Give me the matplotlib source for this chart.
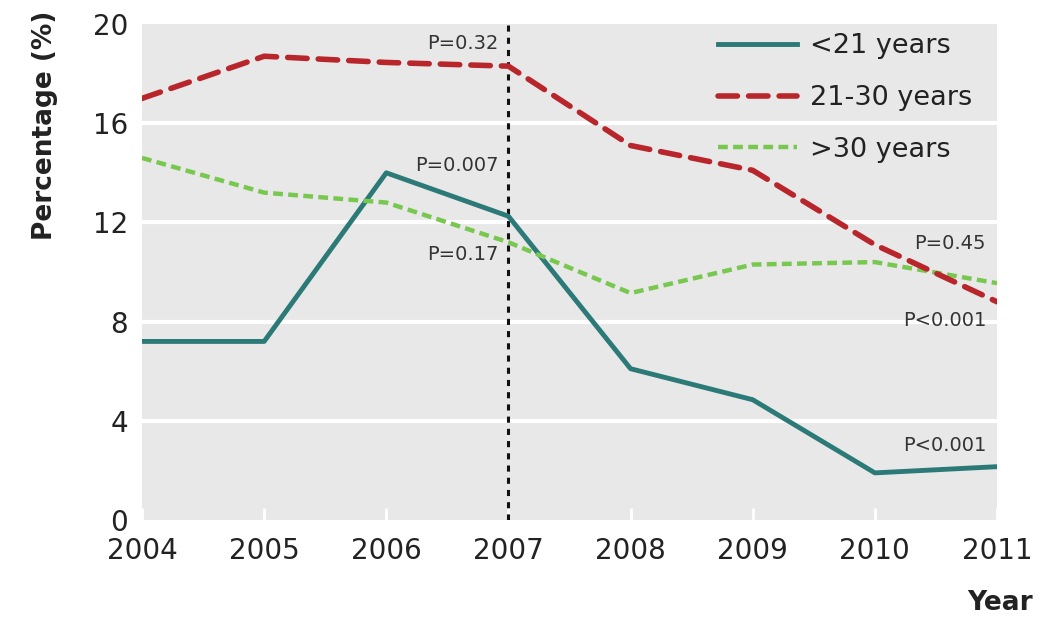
import matplotlib
matplotlib.use('Agg')
import matplotlib.pyplot as plt

years = [2004, 2005, 2006, 2007, 2008, 2009, 2010, 2011]
under_21 = [7.2, 7.2, 14.0, 12.25, 6.1, 4.85, 1.9, 2.15]
age_21_30 = [17.0, 18.7, 18.45, 18.3, 15.1, 14.1, 11.1, 8.8]
over_30 = [14.6, 13.2, 12.8, 11.2, 9.15, 10.3, 10.4, 9.55]

labels = ['<21 years', '21-30 years', '>30 years']
yticks = [0, 4, 8, 12, 16, 20]

# p-value notes: (x, y, text)
p_notes = [
    (2006.92, 19.2, 'P=0.32'),
    (2006.92, 14.3, 'P=0.007'),
    (2006.92, 10.7, 'P=0.17'),
    (2010.91, 11.15, 'P=0.45'),
    (2010.91, 8.05, 'P<0.001'),
    (2010.91, 3.0, 'P<0.001'),
]

plt.rcParams['font.family'] = ['DejaVu Sans']

fig = plt.figure(figsize=(10.55, 6.2), dpi=100)
ax = fig.add_axes([142 / 1055, 100 / 620, 855 / 1055, 496 / 620])
ax.set_facecolor('#e8e8e8')
for s in ax.spines.values():
    s.set_visible(False)

for yv in yticks[1:-1]:
    ax.axhline(yv, color='white', lw=3, zorder=1)

ax.axvline(2007, color='#111111', lw=2.2, ls=(0, (2, 2)), zorder=2)

ax.plot(years, under_21, color='#2b7a78', lw=3.5, label=labels[0], zorder=3,
        solid_joinstyle='round')
ax.plot(years, age_21_30, color='#b8262c', lw=4, ls=(0, (3.5, 2)), label=labels[1],
        zorder=4, dash_capstyle='round')
ax.plot(years, over_30, color='#78c850', lw=3.2, ls=(0, (2.2, 1.2)), label=labels[2],
        zorder=3)

for x, y, t in p_notes:
    ax.text(x, y, t, ha='right', va='center', fontsize=14, color='#333333', zorder=5)

ax.set_xlim(2004, 2011)
ax.set_ylim(0, 20)
ax.set_xticks(years)
ax.set_yticks(yticks)
ax.tick_params(axis='x', direction='in', color='white', length=9, width=2,
               labelsize=20, pad=12, labelcolor='#222222')
ax.tick_params(axis='y', length=0, labelsize=20, pad=10, labelcolor='#222222')

leg = ax.legend(loc='upper right', bbox_to_anchor=(1.0, 1.03), frameon=False,
                fontsize=19.5, handlelength=2.9, labelspacing=0.95, handletextpad=0.5)
for t in leg.get_texts():
    t.set_color('#222222')

fig.text(45 / 1055, 1 - 125 / 620, 'Percentage (%)', rotation=90, ha='center',
         va='center', fontsize=19, fontweight='bold', color='#222222')
fig.text(1000 / 1055, 1 - 603 / 620, 'Year', ha='center', va='center',
         fontsize=19, fontweight='bold', color='#222222')

fig.savefig('out.png', dpi=100)
